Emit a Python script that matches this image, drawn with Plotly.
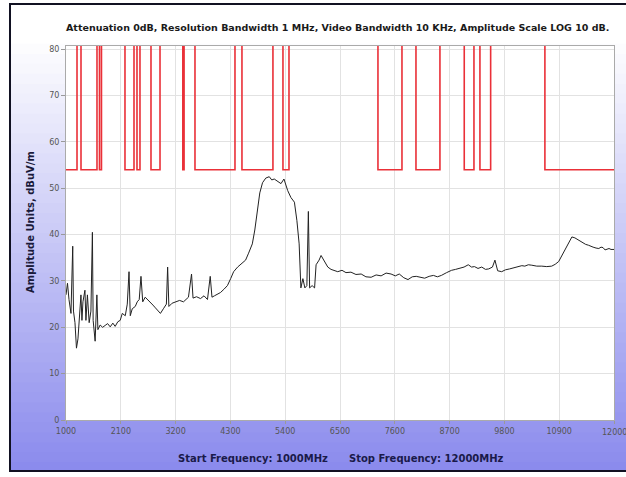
import plotly.graph_objects as go

# Spectrum trace (MHz, dBuV/m)
freq = [1000, 1030, 1060, 1100, 1135, 1150, 1180, 1210, 1240, 1280, 1300, 1320, 1340, 1380,
        1400, 1430, 1465, 1500, 1530, 1545, 1585, 1620, 1640, 1685, 1735, 1785, 1835, 1887,
        1940, 1987, 2040, 2088, 2130, 2190, 2230, 2265, 2290, 2330, 2390, 2430, 2470, 2505,
        2540, 2590, 2640, 2690, 2745, 2795, 2850, 2895, 2955, 3015, 3040, 3065, 3130, 3195,
        3280, 3358, 3420, 3458, 3520, 3550, 3620, 3700, 3770, 3840, 3895, 3930, 3980, 4020,
        4100, 4170, 4240, 4305, 4365, 4445, 4540, 4605, 4665, 4740, 4790, 4840, 4890, 4945,
        5010, 5080, 5130, 5180, 5255, 5315, 5375, 5450, 5515, 5585, 5635, 5680, 5715, 5755,
        5795, 5835, 5865, 5890, 5940, 5990, 6020, 6080, 6120, 6180, 6255, 6320, 6390, 6455,
        6540, 6620, 6720, 6820, 6925, 7020, 7125, 7225, 7325, 7425, 7525, 7610, 7690, 7780,
        7865, 7950, 8030, 8120, 8200, 8290, 8375, 8455, 8535, 8640, 8740, 8820, 8900, 8990,
        9075, 9140, 9200, 9270, 9345, 9420, 9485, 9560, 9610, 9665, 9745, 9820, 9905, 9990,
        10080, 10150, 10210, 10280, 10350, 10450, 10550, 10650, 10750, 10820, 10890, 10955,
        11020, 11095, 11155, 11215, 11290, 11375, 11430, 11490, 11540, 11580, 11640, 11695,
        11740, 11780, 11820, 11860, 11900, 11940, 12000]
level = [27.0, 29.5, 26.0, 23.0, 37.5, 23.5, 21.0, 15.5, 17.5, 23.0, 27.0, 21.5, 25.5, 28.0,
         21.5, 27.0, 21.0, 23.5, 40.5, 21.5, 17.0, 27.0, 19.5, 20.5, 20.0, 20.4, 20.8, 20.1,
         20.9, 20.2, 21.2, 21.5, 23.0, 22.5, 25.0, 32.0, 22.5, 24.0, 24.5, 25.5, 26.0, 31.0,
         25.5, 26.5, 26.0, 25.5, 24.8, 24.2, 23.5, 23.0, 24.0, 25.0, 33.0, 24.5, 25.2, 25.5,
         25.8, 25.5, 26.0, 26.5, 31.5, 26.3, 26.6, 26.2, 26.8, 26.0, 31.0, 26.5, 26.8, 27.0,
         27.5, 28.2, 29.0, 30.5, 32.0, 33.0, 34.0, 34.5, 36.0, 38.0, 41.0, 45.5, 49.0, 51.2,
         52.2, 52.5, 51.8, 52.0, 51.5, 51.0, 52.0, 49.5, 48.0, 47.0, 43.0, 38.0, 28.5, 30.5,
         28.5, 29.0, 45.0, 28.5, 29.0, 28.5, 33.5, 34.5, 35.5, 34.5, 33.0, 32.5, 32.2, 32.0,
         32.3, 31.8, 31.9, 31.4, 31.5, 30.9, 30.8, 31.3, 31.1, 31.7, 31.5, 31.1, 31.5, 30.7,
         30.3, 30.9, 31.0, 30.7, 30.6, 31.0, 31.2, 30.9, 31.2, 31.8, 32.3, 32.5, 32.8, 33.0,
         33.5, 33.0, 33.1, 32.7, 33.0, 32.5, 32.6, 33.0, 34.5, 32.2, 32.0, 32.4, 32.6, 32.9,
         33.1, 33.3, 33.2, 33.5, 33.4, 33.2, 33.2, 33.1, 33.2, 33.6, 34.2, 35.5,
         36.8, 38.5, 39.5, 39.3, 38.8, 38.2, 37.9, 37.7, 37.4, 37.3, 37.1, 37.0,
         37.3, 37.2, 36.7, 36.9, 37.0, 36.8, 36.8]

# Limit line: level switches at these frequencies (step "hv")
limit_freq = [1000, 1221, 1301, 1622, 1672, 1712, 2184, 2365, 2425, 2485, 2706, 2887, 3345, 3370,
              3589, 4392, 4532, 5154, 5355, 5476, 7262, 7744, 8025, 8506, 8994, 9189, 9309,
              9524, 10613, 12000]
limit_level = [54, 90, 54, 90, 54, 90, 54, 90, 54, 90, 54, 90, 54, 90,
               54, 90, 54, 90, 54, 90, 54, 90, 54, 90, 54, 90, 54,
               90, 54, 54]

W, H = 626, 477
L, R, T, B = 66, 614, 46, 420
pw, ph = R - L, B - T


def px(x):
    return (x - L) / pw


def py(y):
    return (B - y) / ph


fig = go.Figure()
fig.add_trace(go.Scatter(x=limit_freq, y=limit_level, mode="lines", line_shape="hv",
                         line=dict(color="#ea3038", width=1.6), hoverinfo="skip"))
fig.add_trace(go.Scatter(x=freq, y=level, mode="lines",
                         line=dict(color="#222222", width=1)))

# background gradient strips (white -> lavender), overlapping to avoid seams
shapes = []
y0, y1 = 4, 472
n = 47
for i in range(n):
    a = y0 + (y1 - y0) * i / n
    b = y0 + (y1 - y0) * (i + 1) / n
    t = max(0.0, ((a + b) / 2 - 40) / (y1 - 40))
    r = int(255 - 117 * t)
    g = int(255 - 117 * t)
    bl = int(255 - 18 * t)
    shapes.append(dict(type="rect", xref="paper", yref="paper", layer="below",
                       x0=px(9), x1=px(640), y0=py(min(b + 2, y1)), y1=py(a),
                       fillcolor=f"rgb({r},{g},{bl})", line=dict(width=0)))
# white plot area on top of the gradient
shapes.append(dict(type="rect", xref="paper", yref="paper", layer="below",
                   x0=0, x1=1, y0=0, y1=1, fillcolor="white", line=dict(width=0)))
# dark frame
shapes.append(dict(type="rect", xref="paper", yref="paper", layer="above",
                   x0=px(10), x1=px(640), y0=py(471), y1=py(4),
                   line=dict(color="#111122", width=2), fillcolor="rgba(0,0,0,0)"))

tick_font = dict(family="DejaVu Sans", size=8, color="#555555")
fig.update_layout(
    width=W, height=H,
    margin=dict(l=L, r=W - R, t=T, b=H - B),
    paper_bgcolor="white", plot_bgcolor="white",
    showlegend=False,
    shapes=shapes,
    xaxis=dict(range=[1000, 12000], tick0=1000, dtick=1100, tickformat="d",
               showgrid=True, gridcolor="#e2e2e2", gridwidth=1, zeroline=False,
               ticks="outside", ticklen=3, tickcolor="#999999",
               showline=True, linecolor="#aaaaaa", mirror=True,
               tickfont=tick_font),
    yaxis=dict(range=[0, 80.7], tick0=0, dtick=10, showgrid=True,
               gridcolor="#e2e2e2", gridwidth=1, zeroline=False,
               ticks="outside", ticklen=4, tickcolor="#999999",
               showline=True, linecolor="#aaaaaa", mirror=True,
               tickfont=tick_font),
    annotations=[
        dict(text="<b>Attenuation 0dB, Resolution Bandwidth 1 MHz, Video Bandwidth 10 KHz, "
                  "Amplitude Scale LOG 10 dB.</b>",
             xref="paper", yref="paper", x=px(337), y=py(27), showarrow=False,
             xanchor="center", yanchor="middle",
             font=dict(family="DejaVu Sans", size=9.5, color="#1a1a1a")),
        dict(text="<b>Amplitude Units, dBuV/m</b>", textangle=-90,
             xref="paper", yref="paper", x=px(30), y=py(222), showarrow=False,
             xanchor="center", yanchor="middle",
             font=dict(family="DejaVu Sans", size=10, color="#1a1a3a")),
        # last tick label, clipped by the window edge as in the original
        dict(text="12000", xref="x", yref="paper", x=12000, y=py(433), showarrow=False,
             xanchor="center", yanchor="middle", font=tick_font),
        dict(text="<b>Start Frequency: 1000MHz</b>",
             xref="paper", yref="paper", x=px(330), y=py(458), showarrow=False,
             xanchor="right", yanchor="middle",
             font=dict(family="DejaVu Sans", size=10, color="#1a1a4a")),
        dict(text="<b>Stop Frequency: 12000MHz</b>",
             xref="paper", yref="paper", x=px(347), y=py(458), showarrow=False,
             xanchor="left", yanchor="middle",
             font=dict(family="DejaVu Sans", size=10, color="#1a1a4a")),
    ],
)

fig.write_html("out.html", config={"displayModeBar": False},
               post_script="document.body.style.margin='0';")
